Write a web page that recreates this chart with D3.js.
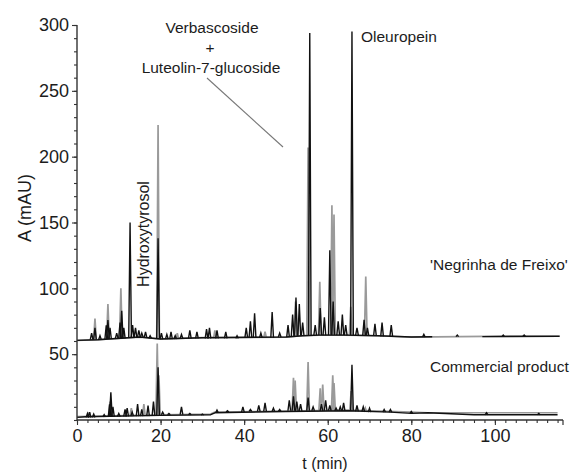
<!DOCTYPE html>
<html>
<head>
<meta charset="utf-8">
<script src="https://cdn.jsdelivr.net/npm/d3@7"></script>
<style>
  html, body { margin: 0; padding: 0; background: #fff; }
  svg { display: block; }
  text { font-family: "Liberation Sans", Arial, sans-serif; fill: #1c1c1c; }
</style>
</head>
<body>
<svg id="chart" width="584" height="475"></svg>
<script>
// ---------- data (t in min, A in mAU) ----------
const xTicks = [0, 20, 40, 60, 80, 100];
const yTicks = [50, 100, 150, 200, 250, 300];

// 'Negrinha de Freixo' trace (offset baseline ~60 mAU)
const topBaseBlack = [[0,60.5],[5,61],[15,63],[20,61.5],[30,62.5],[50,63],[54,64],[58,64.5],[64,64.5],[72,64],[80,63],[85,63.2],null,[97,63.3],[115.5,63.5]];
const topBaseGray = [[0,60.5],[5,61],[15,63],[20,61.5],[30,62.5],[50,63],[54,64],[58,64.5],[64,64.5],[72,64],[80,63],[115.5,64]];
const topPeaksBlack = [
  [3.5,66,61],[4.3,70,61],[5.5,64,61],[7.0,72,61.5],[7.4,76,61.5],[7.9,70,61.5],
  [9.5,66,62],[10.3,74,62],[10.7,83,62],[11.2,70,62],[12.7,150,62.5],[13.3,72,63],
  [14.0,70,63],[14.8,68,63],[15.5,66,63],[16.4,67,62.5],[17.5,64,62],[19.4,138,62],
  [20.2,66,61.5],[21.5,65,61.5],[22.5,67,61.5],[23.5,64,61.5],[25,65,62],[27.0,68,62],
  [28.7,67,62],[31,69,62],[31.7,70,62],[33.5,68,62],[35.6,67,62],[38.3,64,62],
  [40.5,70,62.5],[41.5,75,62.5],[42.5,81,62.5],[44,66,62.5],[46.7,82,62.5],[48.5,66,63],
  [50.5,72,63],[51.6,80,63.5],[52.4,93,64],[53.2,88,64],[54.0,74,64],[55.7,294,64],
  [57.0,72,64.5],[58.2,85,64.5],[59.2,78,64.5],[60.5,129,64.5],[61.3,90,64.5],[62.5,75,64.5],
  [63.5,80,64.5],[64.3,72,64.5],[65.8,295,64.5],[67,70,64.5],[68.7,76,64.5],[69.5,70,64],
  [71.3,73,64],[73,74,63.5],[75.2,72,63.5],[83,65,63],[91,64.5,63.3],[102,64.5,63.3],[107,64.5,63.4]
];
const topPeaksGray = [
  [4.3,77,61],[7.4,88,61.5],[10.5,100,62],[19.4,224,62],[24,66,61.5],[33,68,62],
  [45,67,62.5],[52.3,90,64],[55.3,207,64],[58.1,105,64.5],[61.0,163,64.5],[61.5,156,64.5],
  [65.5,86,64.5],[69.1,109,64]
];

// Commercial product trace
const botBaseBlack = [[0,2],[2,2.5],[20,3.5],[32,4],[33,5.5],[50,6.5],[65,7],[75,6],[80,5],[84,5.5],[95,4],[115,4]];
const botBaseGray = [[0,2.5],[20,4],[32,4.5],[33,6],[65,7.5],[80,6],[84,5.5],[110,5.5],[115,5.5]];
const botPeaksBlack = [
  [2.5,5,2],[3,6,2],[4,4.5,2],[6.5,4,2.3],[7.8,12,2.5],[8.1,21,2.5],[8.6,10,2.5],
  [10,5,2.7],[11.5,8,2.8],[12,9,2.8],[13.2,6,3],[14.5,12,3],[15.5,8,3],[17,11,3],
  [18.3,14,3.3],[19.4,40,3.5],[20.5,6,4],[22,5,4],[25,10,4],[27,5,4],[30,4.5,3.8],
  [33.5,7.5,5.5],[36,7,6],[39.7,10,6],[41.5,8,6.5],[43.5,11,6.5],[45,13,6.5],[47,9,6.5],
  [48.5,8,6.5],[50.8,15,7],[51.8,18,7],[52.6,14,7],[53.5,12,7],[55.3,17,7],[56.5,10,7],
  [58.5,12,7],[59.5,15,7],[60.5,11,7],[62,9,7],[63,10,7],[63.8,13,7],[65.8,42,7],
  [67,11,6.5],[68.5,10,6.5],[70,9,6],[73.5,8,6],[75,8,6],[80,6.5,5],[98,5.5,4],[110.5,5,4]
];
const botPeaksGray = [
  [3,6,2],[7.9,14,2.5],[13,9,3],[16,12,3],[19.2,58,3.5],[19.6,34,3.5],[51.8,32,7],
  [52.2,30,7],[55.3,44,7],[58.2,24,7],[58.8,27,7],[61.2,34,7],[61.5,28,7],[65.6,22,7],[69,9,6]
];

// ---------- drawing ----------
const svg = d3.select("#chart");
const x = d3.scaleLinear().domain([0, 116.3]).range([77, 563]);
const y = d3.scaleLinear().domain([0, 300]).range([420, 25]);

const line = d3.line().defined(d => d !== null).x(d => x(d[0])).y(d => y(d[1]));
const HW = 0.32; // half width of a peak in minutes

function drawTrace(base, peaks, color, width) {
  const g = svg.append("g");
  g.append("path").attr("d", line(base)).attr("fill", "none")
    .attr("stroke", color).attr("stroke-width", width).attr("stroke-linejoin", "round");
  g.selectAll("path.pk").data(peaks).join("path").attr("class", "pk")
    .attr("d", p => line([[p[0] - HW, p[2]], [p[0], p[1]], [p[0] + HW, p[2]]]))
    .attr("fill", "none").attr("stroke", color).attr("stroke-width", width)
    .attr("stroke-linejoin", "miter");
}

const GRAY = "#9a9a9a", BLACK = "#111";
drawTrace(topBaseGray, topPeaksGray, GRAY, 1.7);
drawTrace(botBaseGray, botPeaksGray, GRAY, 1.7);
drawTrace(topBaseBlack, topPeaksBlack, BLACK, 1.4);
drawTrace(botBaseBlack, botPeaksBlack, BLACK, 1.4);

// axes
const axisColor = "#333";
const xAxis = svg.append("g").attr("transform", `translate(0,${y(0)})`)
  .call(d3.axisBottom(x).tickValues(xTicks).tickSize(5).tickPadding(4).tickFormat(d3.format("d")));
const xMinor = svg.append("g").attr("transform", `translate(0,${y(0)})`)
  .call(d3.axisBottom(x).tickValues(d3.range(0, 116, 2.5)).tickSize(3).tickFormat(""));
const yAxis = svg.append("g").attr("transform", `translate(${x(0)},0)`)
  .call(d3.axisLeft(y).tickValues(yTicks).tickSize(5).tickPadding(3));
const yMinor = svg.append("g").attr("transform", `translate(${x(0)},0)`)
  .call(d3.axisLeft(y).tickValues(d3.range(0, 301, 10)).tickSize(3).tickFormat(""));

[xAxis, xMinor, yAxis, yMinor].forEach(a => {
  a.select(".domain").attr("stroke", axisColor).attr("stroke-width", 1.4);
  a.selectAll(".tick line").attr("stroke", axisColor).attr("stroke-width", 1.1);
  a.selectAll("text").style("font-size", "18px").attr("fill", "#1c1c1c")
    .style("font-family", "'Liberation Sans', Arial, sans-serif");
});
xMinor.select(".domain").remove(); yMinor.select(".domain").remove();
// end tick at right of x axis
svg.append("line").attr("x1", x(116.3)).attr("x2", x(116.3)).attr("y1", y(0)).attr("y2", y(0) + 5)
  .attr("stroke", axisColor).attr("stroke-width", 1.2);
xAxis.select(".domain").attr("d", `M${x(0)},0H${x(116.3)}`);
yAxis.select(".domain").attr("d", `M0,${y(300)}V${y(0)}`);

// axis titles
svg.append("text").attr("x", 325).attr("y", 469).attr("text-anchor", "middle")
  .style("font-size", "16px").text("t (min)");
svg.append("text").attr("transform", "translate(31,208) rotate(-90)").attr("text-anchor", "middle")
  .style("font-size", "18px").text("A (mAU)");

// annotations
svg.append("text").attr("x", 212).attr("y", 33).attr("text-anchor", "middle").style("font-size", "15.5px").text("Verbascoside");
svg.append("text").attr("x", 210).attr("y", 53).attr("text-anchor", "middle").style("font-size", "15.5px").text("+");
svg.append("text").attr("x", 211).attr("y", 73).attr("text-anchor", "middle").style("font-size", "15.5px").text("Luteolin-7-glucoside");
svg.append("line").attr("x1", 207).attr("y1", 78).attr("x2", 283).attr("y2", 147)
  .attr("stroke", "#777").attr("stroke-width", 1.1);
svg.append("text").attr("x", 361).attr("y", 42).style("font-size", "15.5px").text("Oleuropein");
svg.append("text").attr("transform", "translate(149,234) rotate(-90)").attr("text-anchor", "middle")
  .style("font-size", "16px").text("Hydroxytyrosol");
svg.append("text").attr("x", 430).attr("y", 270).style("font-size", "15.5px").text("'Negrinha de Freixo'");
svg.append("text").attr("x", 430).attr("y", 372).style("font-size", "15.5px").text("Commercial product");
</script>
</body>
</html>
